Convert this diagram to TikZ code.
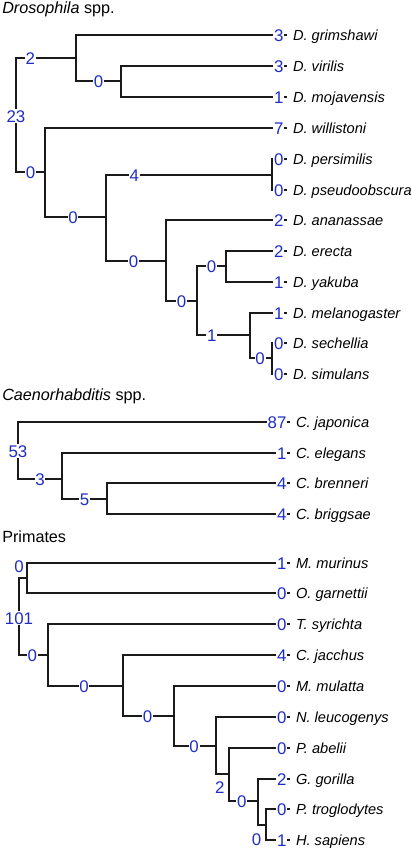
\documentclass[tikz,border=0pt]{standalone}
\usepackage{fontspec}
\setmainfont{Liberation Sans}
\usetikzlibrary{positioning}
\definecolor{treeBlue}{HTML}{1F2EC4}
\definecolor{treeInk}{HTML}{1A1A1A}

\begin{document}
\begin{tikzpicture}[x=0.025cm,y=-0.025cm,node distance=2pt]
  \tikzset{
    branch/.style={treeInk,line width=1pt},
    taxon/.style={anchor=west,inner xsep=4.3pt,inner ysep=0pt,outer sep=0pt,text height=7.4pt,text depth=0pt,font=\fontsize{10.4}{12}\selectfont\itshape},
    gain/.style={treeBlue,fill=white,inner xsep=0.5pt,inner ysep=0.8pt,outer sep=0pt,text height=8.6pt,text depth=0pt,font=\fontsize{12}{14}\selectfont},
    clade/.style={anchor=base west,inner sep=0pt,font=\fontsize{11.5}{13}\selectfont}
  }
  \useasboundingbox (0,0) rectangle (412,850);

  % Drosophila
  \node[clade] (tDros) at (2,13.3) {\textit{Drosophila} spp.};
  \node[taxon] (grim) at (287,35) {D. grimshawi};
  \node[taxon] (viri) at (287,66) {D. virilis};
  \node[taxon] (moja) at (287,97) {D. mojavensis};
  \node[taxon] (will) at (287,128) {D. willistoni};
  \node[taxon] (pers) at (287,159) {D. persimilis};
  \node[taxon] (pseu) at (287,190) {D. pseudoobscura};
  \node[taxon] (anan) at (287,220) {D. ananassae};
  \node[taxon] (erec) at (287,251) {D. erecta};
  \node[taxon] (yaku) at (287,282) {D. yakuba};
  \node[taxon] (mela) at (287,313) {D. melanogaster};
  \node[taxon] (sech) at (287,343) {D. sechellia};
  \node[taxon] (simu) at (287,374) {D. simulans};
  \coordinate (dRoot) at (16,116);
  \coordinate (dA) at (76,58);
  \coordinate (dVM) at (121,81);
  \coordinate (dB) at (45,172);
  \coordinate (dC) at (106,217);
  \coordinate (dPP) at (272,175);
  \coordinate (dD) at (166,261);
  \coordinate (dE) at (197,301);
  \coordinate (dEY) at (226,266);
  \coordinate (dM) at (250,335);
  \coordinate (dSS) at (272,358);
  \draw[branch] (dRoot) |- (dA) node[gain,pos=0.62] (lA) {2};
  \draw[branch] (dA) |- (grim.west);
  \draw[branch] (dA) |- (dVM) node[gain,pos=0.75] (lVM) {0};
  \draw[branch] (dVM) |- (viri.west);
  \draw[branch] (dVM) |- (moja.west);
  \draw[branch] (dRoot) |- (dB) node[gain,pos=0.75] (lB) {0};
  \draw[branch] (dB) |- (will.west);
  \draw[branch] (dB) |- (dC) node[gain,pos=0.73] (lC) {0};
  \draw[branch] (dC) |- (dPP) node[gain,pos=0.585] (lPP) {4};
  \draw[branch] (dPP) |- (pers.west);
  \draw[branch] (dPP) |- (pseu.west);
  \draw[branch] (dC) |- (dD) node[gain,pos=0.73] (lD) {0};
  \draw[branch] (dD) |- (anan.west);
  \draw[branch] (dD) |- (dE) node[gain,pos=0.75] (lE) {0};
  \draw[branch] (dE) |- (dEY) node[gain,pos=0.75] (lEY) {0};
  \draw[branch] (dEY) |- (erec.west);
  \draw[branch] (dEY) |- (yaku.west);
  \draw[branch] (dE) |- (dM) node[gain,pos=0.64] (lM) {1};
  \draw[branch] (dM) |- (mela.west);
  \draw[branch] (dM) |- (dSS) node[gain,pos=0.73] (lSS) {0};
  \draw[branch] (dSS) |- (sech.west);
  \draw[branch] (dSS) |- (simu.west);
  \node[gain] (lDRoot) at (dRoot) {23};
  \node[gain,left=of grim] (ngrim) {3};
  \node[gain,left=of viri] (nviri) {3};
  \node[gain,left=of moja] (nmoja) {1};
  \node[gain,left=of will] (nwill) {7};
  \node[gain,left=of pers] (npers) {0};
  \node[gain,left=of pseu] (npseu) {0};
  \node[gain,left=of anan] (nanan) {2};
  \node[gain,left=of erec] (nerec) {2};
  \node[gain,left=of yaku] (nyaku) {1};
  \node[gain,left=of mela] (nmela) {1};
  \node[gain,left=of sech] (nsech) {0};
  \node[gain,left=of simu] (nsimu) {0};

  % Caenorhabditis
  \node[clade] (tCaen) at (2,400.5) {\textit{Caenorhabditis} spp.};
  \node[taxon] (japo) at (290,422) {C. japonica};
  \node[taxon] (eleg) at (290,453) {C. elegans};
  \node[taxon] (bren) at (290,483) {C. brenneri};
  \node[taxon] (brig) at (290,514) {C. briggsae};
  \coordinate (cRoot) at (18,451);
  \coordinate (cA) at (62,479);
  \coordinate (cBB) at (107,499);
  \draw[branch] (cRoot) |- (japo.west);
  \draw[branch] (cRoot) |- (cA) node[gain,pos=0.75] (lCA) {3};
  \draw[branch] (cA) |- (eleg.west);
  \draw[branch] (cA) |- (cBB) node[gain,pos=0.75] (lCBB) {5};
  \draw[branch] (cBB) |- (bren.west);
  \draw[branch] (cBB) |- (brig.west);
  \node[gain] (lCRoot) at (cRoot) {53};
  \node[gain,left=of japo] (njapo) {87};
  \node[gain,left=of eleg] (neleg) {1};
  \node[gain,left=of bren] (nbren) {4};
  \node[gain,left=of brig] (nbrig) {4};

  % Primates
  \node[clade] (tPrim) at (2,542.5) {Primates};
  \node[taxon] (muri) at (290,563) {M. murinus};
  \node[taxon] (garn) at (290,593) {O. garnettii};
  \node[taxon] (syri) at (290,624) {T. syrichta};
  \node[taxon] (jacc) at (290,655) {C. jacchus};
  \node[taxon] (mula) at (290,686) {M. mulatta};
  \node[taxon] (leuc) at (290,717) {N. leucogenys};
  \node[taxon] (abel) at (290,748) {P. abelii};
  \node[taxon] (gori) at (290,779) {G. gorilla};
  \node[taxon] (trog) at (290,809) {P. troglodytes};
  \node[taxon] (sapi) at (290,840) {H. sapiens};
  \coordinate (pRoot) at (19,618);
  \coordinate (pMO) at (27,578);
  \coordinate (pF) at (48,655);
  \coordinate (pG) at (123,686);
  \coordinate (pH) at (174,716);
  \coordinate (pI) at (216,746);
  \coordinate (pJ) at (229,774);
  \coordinate (pK) at (258,801);
  \coordinate (pTH) at (266,825);
  \draw[branch] (pRoot) |- (pMO) node[gain,pos=0.5,above=3pt] (lPMO) {0};
  \draw[branch] (pMO) |- (muri.west);
  \draw[branch] (pMO) |- (garn.west);
  \draw[branch] (pRoot) |- (pF) node[gain,pos=0.73] (lPF) {0};
  \draw[branch] (pF) |- (syri.west);
  \draw[branch] (pF) |- (pG) node[gain,pos=0.74] (lPG) {0};
  \draw[branch] (pG) |- (jacc.west);
  \draw[branch] (pG) |- (pH) node[gain,pos=0.74] (lPH) {0};
  \draw[branch] (pH) |- (mula.west);
  \draw[branch] (pH) |- (pI) node[gain,pos=0.74] (lPI) {0};
  \draw[branch] (pI) |- (leuc.west);
  \draw[branch] (pI) |- (pJ) node[gain,pos=0.65,below=4.5pt] (lPJ) {2};
  \draw[branch] (pJ) |- (abel.west);
  \draw[branch] (pJ) |- (pK) node[gain,pos=0.72] (lPK) {0};
  \draw[branch] (pK) |- (gori.west);
  \draw[branch] (pK) |- (pTH) node[gain,pos=0.5,below=5pt,xshift=-1pt] (lPTH) {0};
  \draw[branch] (pTH) |- (trog.west);
  \draw[branch] (pTH) |- (sapi.west);
  \node[gain] (lPRoot) at (pRoot) {101};
  \node[gain,left=of muri] (nmuri) {1};
  \node[gain,left=of garn] (ngarn) {0};
  \node[gain,left=of syri] (nsyri) {0};
  \node[gain,left=of jacc] (njacc) {4};
  \node[gain,left=of mula] (nmula) {0};
  \node[gain,left=of leuc] (nleuc) {0};
  \node[gain,left=of abel] (nabel) {0};
  \node[gain,left=of gori] (ngori) {2};
  \node[gain,left=of trog] (ntrog) {0};
  \node[gain,left=of sapi] (nsapi) {1};
\end{tikzpicture}
\end{document}
